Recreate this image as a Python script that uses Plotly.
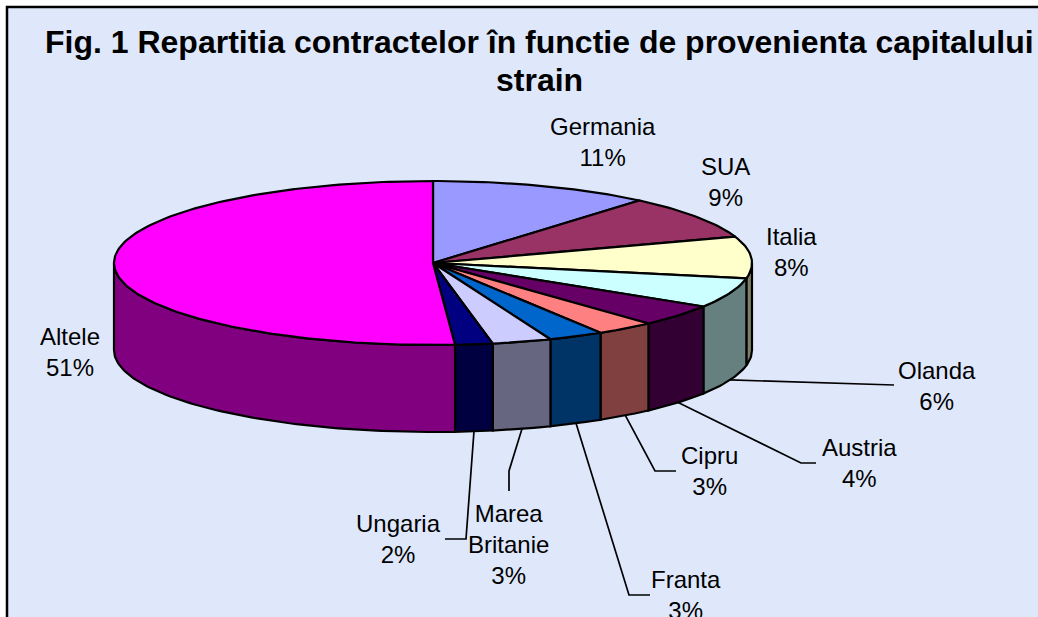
import math
import plotly.graph_objects as go

# --- data ---
countries = ["Germania", "SUA", "Italia", "Olanda", "Austria", "Cipru", "Franta", "Marea<br>Britanie", "Ungaria", "Altele"]
shares = [11.2, 8.6, 8.2, 5.9, 4.3, 3.0, 2.8, 3.0, 1.9, 51.1]
top_colors = ["#9999FF", "#993366", "#FFFFCC", "#CCFFFF", "#660066", "#FF8080", "#0066CC", "#CCCCFF", "#000080", "#FF00FF"]
side_colors = ["#4D4D80", "#4D1A33", "#808066", "#668080", "#330033", "#804040", "#003366", "#666680", "#000040", "#800080"]
title_lines = ["Fig. 1 Repartitia contractelor în functie de provenienta capitalului", "strain"]

# --- pie geometry (pixels) ---
CX, CY, RX, RY, DEPTH = 433.0, 263.0, 319.0, 82.0, 87.0
BG = "#DFE8FB"
LW = 2.2
FONT = "Liberation Sans, Arial, sans-serif"


def rim(deg, drop=0.0):
    t = math.radians(deg)
    return CX + RX * math.sin(t), CY - RY * math.cos(t) + drop


def arc(a, b, drop=0.0):
    n = max(2, int(abs(b - a) / 1.0) + 1)
    pts = [rim(a + (b - a) * i / (n - 1), drop) for i in range(n)]
    return [p[0] for p in pts], [p[1] for p in pts]


total = sum(shares)
edges = [0.0]
for s in shares:
    edges.append(edges[-1] + s / total * 360.0)

fig = go.Figure()


def poly(xs, ys, fill):
    fig.add_trace(go.Scatter(x=xs, y=ys, mode="lines", fill="toself", fillcolor=fill,
                             line=dict(color="black", width=LW), hoverinfo="skip",
                             showlegend=False))


# outer walls (only the part on the front half is visible)
for i, c in enumerate(side_colors):
    a, b = max(edges[i], 90.0), min(edges[i + 1], 270.0)
    if b <= a:
        continue
    tx, ty = arc(a, b)
    bx, by = arc(b, a, DEPTH)
    poly(tx + bx + [tx[0]], ty + by + [ty[0]], c)

# top faces
for i, c in enumerate(top_colors):
    tx, ty = arc(edges[i], edges[i + 1])
    poly([CX] + tx + [CX], [CY] + ty + [CY], c)

# --- labels: centre of text block, and leader elbow/end (pixels) ---
label_pos = {
    "Germania": (603, 142), "SUA": (725, 182), "Italia": (791, 252), "Olanda": (937, 386),
    "Austria": (859, 463), "Cipru": (709, 471), "Franta": (686, 595),
    "Marea<br>Britanie": (508, 544), "Ungaria": (398, 539), "Altele": (70, 352),
}
leaders = {
    "Olanda": [(880, 385), (894, 385)],
    "Austria": [(801, 463), (816, 463)],
    "Cipru": [(655, 471), (676, 471)],
    "Franta": [(629, 595), (650, 595)],
    "Marea<br>Britanie": [(509, 471), (509, 491)],
    "Ungaria": [(466, 539), (445, 539)],
}

for i, name in enumerate(countries):
    mid = (edges[i] + edges[i + 1]) / 2
    if name in leaders:
        ax, ay = rim(mid, DEPTH)
        pts = [(ax, ay)] + leaders[name]
        fig.add_trace(go.Scatter(x=[p[0] for p in pts], y=[p[1] for p in pts], mode="lines",
                                 line=dict(color="black", width=1.7), hoverinfo="skip",
                                 showlegend=False))
    lx, ly = label_pos[name]
    fig.add_annotation(x=lx, y=ly, text=f"{name}<br>{shares[i]:.0f}%", showarrow=False,
                       xanchor="center", yanchor="middle", align="center",
                       font=dict(family=FONT, size=24, color="black"))

for line, ty in zip(title_lines, (42, 80)):
    fig.add_annotation(x=539, y=ty, showarrow=False, xanchor="center", yanchor="middle",
                       text=f"<b>{line}</b>", font=dict(family=FONT, size=32, color="black"))

fig.update_layout(
    width=1038, height=617, margin=dict(l=0, r=0, t=0, b=0),
    paper_bgcolor="white", plot_bgcolor="white", showlegend=False,
    xaxis=dict(range=[0, 1038], visible=False, fixedrange=True),
    yaxis=dict(range=[617, 0], visible=False, fixedrange=True),
    shapes=[dict(type="rect", xref="x", yref="y", x0=7, y0=7, x1=1070, y1=660,
                 fillcolor=BG, line=dict(color="black", width=2.5), layer="below")],
)

fig.write_html("out.html", config={"displayModeBar": False},
               post_script="document.body.style.margin='0';document.documentElement.style.overflow='hidden';")
